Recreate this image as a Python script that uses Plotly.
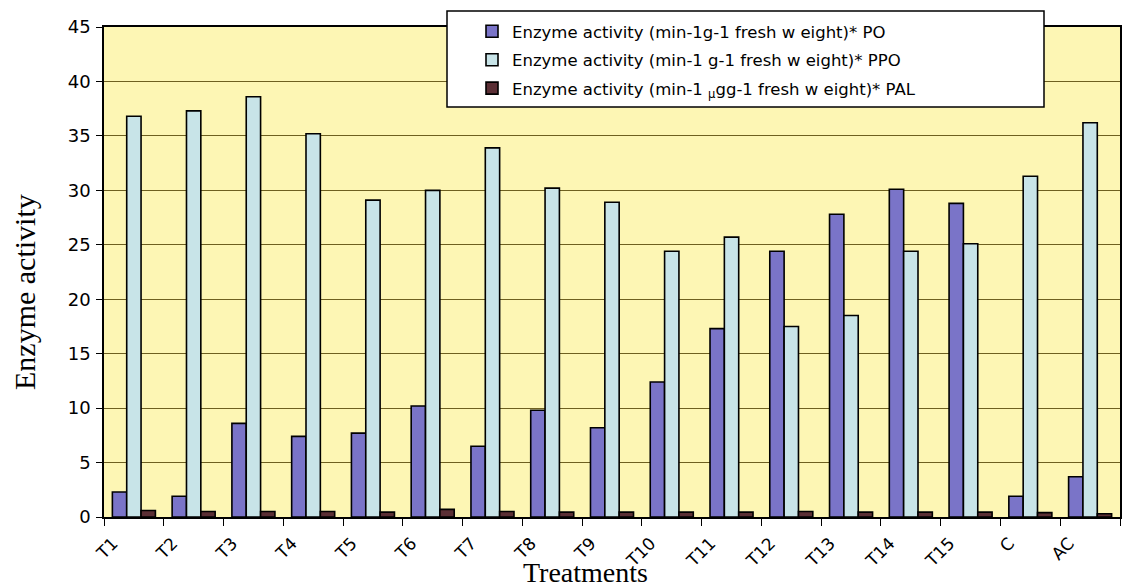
import plotly.graph_objects as go

treatments = ["T1", "T2", "T3", "T4", "T5", "T6", "T7", "T8", "T9", "T10",
              "T11", "T12", "T13", "T14", "T15", "C", "AC"]
po_values = [2.3, 1.9, 8.6, 7.4, 7.7, 10.2, 6.5, 9.8, 8.2, 12.4,
             17.3, 24.4, 27.8, 30.1, 28.8, 1.9, 3.7]
ppo_values = [36.8, 37.3, 38.6, 35.2, 29.1, 30.0, 33.9, 30.2, 28.9, 24.4,
              25.7, 17.5, 18.5, 24.4, 25.1, 31.3, 36.2]
pal_values = [0.6, 0.5, 0.5, 0.5, 0.45, 0.7, 0.5, 0.45, 0.45, 0.45,
              0.45, 0.5, 0.45, 0.45, 0.45, 0.4, 0.3]

series_names = [
    "Enzyme activity (min-1g-1 fresh w eight)* PO",
    "Enzyme activity (min-1 g-1 fresh w eight)* PPO",
    "Enzyme activity (min-1 <sub>μ</sub>gg-1 fresh w eight)* PAL",
]
series_colors = ["#7A74C8", "#C8E4E8", "#5B2F35"]
y_ticks = [0, 5, 10, 15, 20, 25, 30, 35, 40, 45]

SANS = "DejaVu Sans, Verdana, sans-serif"
SERIF = "Liberation Serif, Times New Roman, serif"

fig = go.Figure()
for i, (name, vals, col) in enumerate(zip(series_names, [po_values, ppo_values, pal_values], series_colors)):
    fig.add_trace(go.Bar(
        x=treatments, y=vals, name=name, legendgroup=f"g{i}",
        marker=dict(color=col, line=dict(color="black", width=1.6)),
    ))

# page offset caused by the default body margin
OFF = 8
W, H = 1132 - OFF, 588 - OFF
L, T = 104 - OFF, 27 - OFF
R = W - (1120 - OFF)
B = H - (517 - OFF)
pw, ph = W - L - R, H - T - B

def px_x(x):
    return (x - OFF - L) / pw

def px_y(y):
    return (H - B - (y - OFF)) / ph

fig.update_layout(
    width=W, height=H,
    margin=dict(l=L, r=R, t=T, b=B, autoexpand=False),
    paper_bgcolor="white",
    plot_bgcolor="#FDF6B4",
    barmode="group",
    bargap=0.28,
    bargroupgap=0,
    font=dict(family=SANS, size=16, color="black"),
    showlegend=True,
    legend=dict(
        x=px_x(472), y=px_y(14), xanchor="left", yanchor="top",
        bgcolor="rgba(0,0,0,0)", borderwidth=0,
        font=dict(family=SANS, size=16.5),
        traceorder="grouped", tracegroupgap=4,
    ),
    shapes=[dict(
        type="rect", xref="paper", yref="paper",
        x0=px_x(447), x1=px_x(1044), y0=px_y(107), y1=px_y(11),
        fillcolor="white", line=dict(color="black", width=1.5), layer="above",
    )],
    annotations=[
        dict(text="Enzyme activity", xref="paper", yref="paper",
             x=px_x(24), y=px_y(292), xanchor="center", yanchor="middle",
             textangle=-90, showarrow=False,
             font=dict(family=SERIF, size=30)),
        dict(text="Treatments", xref="paper", yref="paper",
             x=px_x(585), y=px_y(572), xanchor="center", yanchor="middle",
             showarrow=False,
             font=dict(family=SERIF, size=28)),
    ],
)

fig.update_xaxes(
    type="category", tickangle=-45, tickson="boundaries",
    ticks="outside", ticklen=7, tickcolor="black",
    showline=True, linecolor="black", linewidth=1.5, mirror=True,
    tickfont=dict(family=SANS, size=17), ticklabelshift=-21,
    ticklabelstandoff=8,
)
fig.update_yaxes(
    range=[0, 45], tickvals=y_ticks,
    ticks="outside", ticklen=6, tickcolor="black",
    showline=True, linecolor="black", linewidth=1.5, mirror=True,
    showgrid=True, gridcolor="#6E6020", gridwidth=1,
    zeroline=False, tickfont=dict(family=SANS, size=18),
    ticklabelstandoff=2,
)

fig.write_html("out.html")
